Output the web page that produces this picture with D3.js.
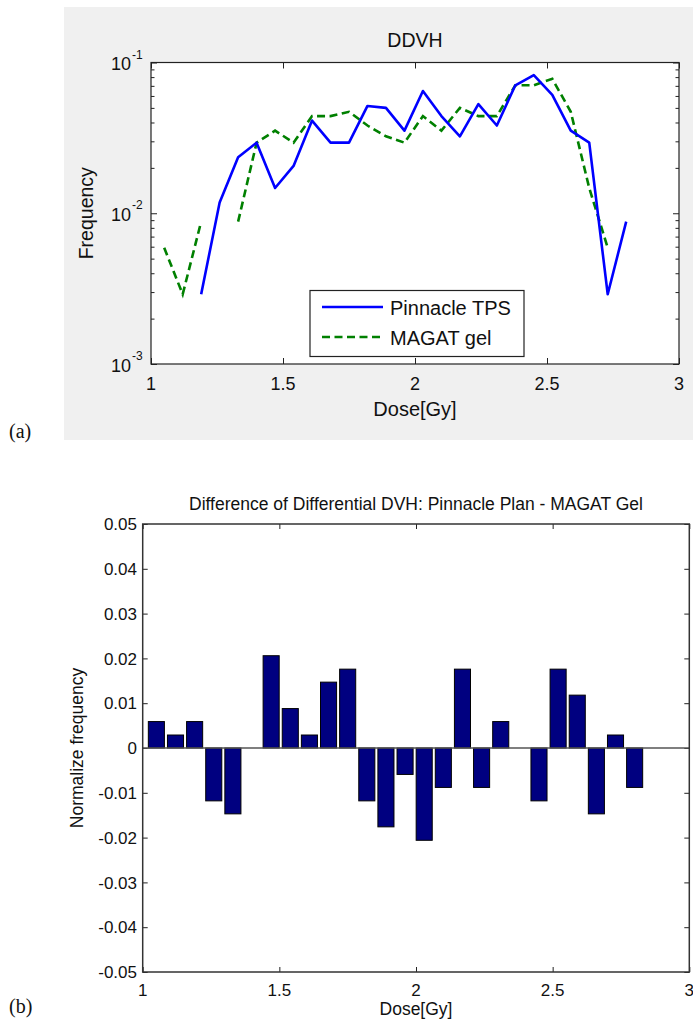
<!DOCTYPE html>
<html>
<head>
<meta charset="utf-8">
<script src="https://d3js.org/d3.v7.min.js"></script>
<style>
body { margin: 0; background: #ffffff; }
svg { display: block; }
</style>
</head>
<body>
<div class="chart"></div>
<script>
// dose bin centres [Gy]
var doseBins = [1.05, 1.12, 1.19, 1.26, 1.33, 1.40, 1.47, 1.54, 1.61, 1.68, 1.75, 1.82, 1.89,
                1.96, 2.03, 2.10, 2.17, 2.24, 2.31, 2.38, 2.45, 2.52, 2.59, 2.66, 2.73, 2.80];

// differential DVH, null = empty bin (not drawn on log axis)
var pinnacleFreq = [null, null, 0.0029, 0.0118, 0.0235, 0.0294, 0.0147, 0.0206, 0.0412, 0.0294, 0.0294, 0.0515, 0.0500,
                    0.0353, 0.0647, 0.0441, 0.0324, 0.0529, 0.0382, 0.0706, 0.0824, 0.0610, 0.0353, 0.0294, 0.0029, 0.0088];
var magatFreq = [0.0059, 0.0029, 0.0088, null, 0.0088, 0.0294, 0.0353, 0.0294, 0.0441, 0.0441, 0.0471, 0.0382, 0.0324,
                 0.0294, 0.0441, 0.0353, 0.0500, 0.0441, 0.0441, 0.0706, 0.0706, 0.0779, 0.0471, 0.0147, 0.0059, null];

// difference bars (panel b)
var diffFreq = [0.0059, 0.0029, 0.0059, -0.0118, -0.0147, 0, 0.0206, 0.0088, 0.0029, 0.0147, 0.0176, -0.0118, -0.0176,
                -0.0059, -0.0206, -0.0088, 0.0176, -0.0088, 0.0059, 0, -0.0118, 0.0176, 0.0118, -0.0147, 0.0029, -0.0088];

var doseTicks = [1, 1.5, 2, 2.5, 3];
var logTicks = [1e-3, 1e-2, 1e-1];
var diffTicks = [0.05, 0.04, 0.03, 0.02, 0.01, 0, -0.01, -0.02, -0.03, -0.04, -0.05];

var seriesNames = ["Pinnacle TPS", "MAGAT gel"];

var width = 693;
var height = 1026;
var axisColor = "#222222";

var svg = d3.select(".chart")
    .append("svg")
    .attr("width", width)
    .attr("height", height);

//////// panel (a) - DDVH on log axis
var topBox = {left: 151, right: 679, top: 62.5, bottom: 364};
var fontTop = "Liberation Sans, Arial, sans-serif";

// grey figure background
svg.append("rect")
    .attr("x", 64)
    .attr("y", 7)
    .attr("width", width - 64)
    .attr("height", 433)
    .attr("fill", "#f0f0f0");

svg.append("rect")
    .attr("x", topBox.left)
    .attr("y", topBox.top)
    .attr("width", topBox.right - topBox.left)
    .attr("height", topBox.bottom - topBox.top)
    .attr("fill", "#ffffff");

var xTop = d3.scaleLinear().domain([1, 3]).range([topBox.left, topBox.right]);
var yTop = d3.scaleLog().domain([1e-3, 1e-1]).range([topBox.bottom, topBox.top]);

// minor log ticks
var minorTicks = yTop.ticks().filter(function(t) {
    return logTicks.indexOf(t) < 0;
});

var gTop = svg.append("g");

// x ticks inside, bottom and top
gTop.append("g")
    .attr("transform", "translate(0," + topBox.bottom + ")")
    .call(d3.axisBottom(xTop).tickValues(doseTicks).tickSizeInner(-6).tickSizeOuter(0).tickFormat(""))
    .call(styleAxis);
gTop.append("g")
    .attr("transform", "translate(0," + topBox.top + ")")
    .call(d3.axisTop(xTop).tickValues(doseTicks).tickSizeInner(-6).tickSizeOuter(0).tickFormat(""))
    .call(styleAxis);

// y ticks inside, left and right
[[d3.axisLeft, topBox.left], [d3.axisRight, topBox.right]].forEach(function(a) {
    gTop.append("g")
        .attr("transform", "translate(" + a[1] + ",0)")
        .call(a[0](yTop).tickValues(logTicks).tickSizeInner(-6).tickSizeOuter(0).tickFormat(""))
        .call(styleAxis);
    gTop.append("g")
        .attr("transform", "translate(" + a[1] + ",0)")
        .call(a[0](yTop).tickValues(minorTicks).tickSizeInner(-3.5).tickSizeOuter(0).tickFormat(""))
        .call(styleAxis);
});

function styleAxis(g) {
    g.select(".domain").remove();
    g.selectAll(".tick line").attr("stroke", axisColor).attr("stroke-width", 1);
}

// series lines
var lineGen = d3.line()
    .defined(function(d) { return d.v !== null; })
    .x(function(d) { return xTop(d.dose); })
    .y(function(d) { return yTop(d.v); });

var pinnacleData = doseBins.map(function(d, i) { return {dose: d, v: pinnacleFreq[i]}; });
var magatData = doseBins.map(function(d, i) { return {dose: d, v: magatFreq[i]}; });

gTop.append("path")
    .datum(magatData)
    .attr("d", lineGen)
    .attr("fill", "none")
    .attr("stroke", "#008000")
    .attr("stroke-width", 2.6)
    .attr("stroke-dasharray", "8,4.5");

gTop.append("path")
    .datum(pinnacleData)
    .attr("d", lineGen)
    .attr("fill", "none")
    .attr("stroke", "#0000ff")
    .attr("stroke-width", 2.6)
    .attr("stroke-linejoin", "round");

// box
gTop.append("rect")
    .attr("x", topBox.left)
    .attr("y", topBox.top)
    .attr("width", topBox.right - topBox.left)
    .attr("height", topBox.bottom - topBox.top)
    .attr("fill", "none")
    .attr("stroke", axisColor)
    .attr("stroke-width", 1.2);

// x tick labels
gTop.selectAll(".xlab")
    .data(doseTicks)
    .enter()
    .append("text")
    .attr("x", function(d) { return xTop(d); })
    .attr("y", 390)
    .attr("text-anchor", "middle")
    .attr("font-family", fontTop)
    .attr("font-size", "18px")
    .attr("fill", "#111")
    .text(function(d) { return d; });

// y tick labels 10^n
var yLab = gTop.selectAll(".ylab")
    .data(logTicks)
    .enter()
    .append("text")
    .attr("x", 131)
    .attr("y", function(d) { return yTop(d) + 7.5; })
    .attr("text-anchor", "end")
    .attr("font-family", fontTop)
    .attr("font-size", "18px")
    .attr("fill", "#111")
    .text("10");
gTop.selectAll(".ysup")
    .data(logTicks)
    .enter()
    .append("text")
    .attr("x", 132)
    .attr("y", function(d) { return yTop(d) - 4; })
    .attr("font-family", fontTop)
    .attr("font-size", "12px")
    .attr("fill", "#111")
    .text(function(d) { return "-" + Math.round(-Math.log10(d)); });

// title and axis labels
gTop.append("text")
    .attr("x", (topBox.left + topBox.right) / 2)
    .attr("y", 47)
    .attr("text-anchor", "middle")
    .attr("font-family", fontTop)
    .attr("font-size", "19.5px")
    .attr("fill", "#111")
    .text("DDVH");

gTop.append("text")
    .attr("x", (topBox.left + topBox.right) / 2)
    .attr("y", 416)
    .attr("text-anchor", "middle")
    .attr("font-family", fontTop)
    .attr("font-size", "20px")
    .attr("fill", "#111")
    .text("Dose[Gy]");

gTop.append("text")
    .attr("transform", "translate(93," + ((topBox.top + topBox.bottom) / 2) + ") rotate(-90)")
    .attr("text-anchor", "middle")
    .attr("font-family", fontTop)
    .attr("font-size", "19.5px")
    .attr("fill", "#111")
    .text("Frequency");

// legend
var legend = gTop.append("g").attr("transform", "translate(310,290.5)");
legend.append("rect")
    .attr("width", 214)
    .attr("height", 66)
    .attr("fill", "#ffffff")
    .attr("stroke", axisColor)
    .attr("stroke-width", 1.2);

var legendStyles = [
    {color: "#0000ff", dash: null},
    {color: "#008000", dash: "8,4.5"}
];
seriesNames.forEach(function(name, i) {
    var ly = 16.5 + i * 30;
    legend.append("line")
        .attr("x1", 12)
        .attr("x2", 73)
        .attr("y1", ly)
        .attr("y2", ly)
        .attr("stroke", legendStyles[i].color)
        .attr("stroke-width", 2.6)
        .attr("stroke-dasharray", legendStyles[i].dash);
    legend.append("text")
        .attr("x", 80)
        .attr("y", ly + 8)
        .attr("font-family", fontTop)
        .attr("font-size", "20px")
        .attr("fill", "#111")
        .text(name);
});

svg.append("text")
    .attr("x", 9)
    .attr("y", 438)
    .attr("font-family", "Liberation Serif, Times New Roman, serif")
    .attr("font-size", "20px")
    .attr("fill", "#111")
    .text("(a)");

//////// panel (b) - difference bars
var botBox = {left: 142.7, right: 689.3, top: 524, bottom: 972};
var fontBot = "Liberation Sans, Arial, sans-serif";

var xBot = d3.scaleLinear().domain([1, 3]).range([botBox.left, botBox.right]);
var yBot = d3.scaleLinear().domain([-0.05, 0.05]).range([botBox.bottom, botBox.top]);

var gBot = svg.append("g");

gBot.append("g")
    .attr("transform", "translate(0," + botBox.bottom + ")")
    .call(d3.axisBottom(xBot).tickValues(doseTicks).tickSizeInner(-5).tickSizeOuter(0).tickFormat(""))
    .call(styleAxis);
gBot.append("g")
    .attr("transform", "translate(0," + botBox.top + ")")
    .call(d3.axisTop(xBot).tickValues(doseTicks).tickSizeInner(-5).tickSizeOuter(0).tickFormat(""))
    .call(styleAxis);
gBot.append("g")
    .attr("transform", "translate(" + botBox.left + ",0)")
    .call(d3.axisLeft(yBot).tickValues(diffTicks).tickSizeInner(-5).tickSizeOuter(0).tickFormat(""))
    .call(styleAxis);
gBot.append("g")
    .attr("transform", "translate(" + botBox.right + ",0)")
    .call(d3.axisRight(yBot).tickValues(diffTicks).tickSizeInner(-5).tickSizeOuter(0).tickFormat(""))
    .call(styleAxis);

// bars
var barWidth = (xBot(doseBins[1]) - xBot(doseBins[0])) * 0.84;
gBot.selectAll(".bar")
    .data(doseBins.map(function(d, i) { return {dose: d, v: diffFreq[i]}; }).filter(function(d) { return d.v !== 0; }))
    .enter()
    .append("rect")
    .attr("x", function(d) { return xBot(d.dose) - barWidth / 2; })
    .attr("y", function(d) { return yBot(Math.max(0, d.v)); })
    .attr("width", barWidth)
    .attr("height", function(d) { return Math.abs(yBot(d.v) - yBot(0)); })
    .attr("fill", "#000080")
    .attr("stroke", "#000000")
    .attr("stroke-width", 1);

// baseline
gBot.append("line")
    .attr("x1", botBox.left)
    .attr("x2", botBox.right)
    .attr("y1", yBot(0))
    .attr("y2", yBot(0))
    .attr("stroke", "#555555")
    .attr("stroke-width", 1.5);

gBot.append("rect")
    .attr("x", botBox.left)
    .attr("y", botBox.top)
    .attr("width", botBox.right - botBox.left)
    .attr("height", botBox.bottom - botBox.top)
    .attr("fill", "none")
    .attr("stroke", "#333333")
    .attr("stroke-width", 1.5);

// tick labels
gBot.selectAll(".ylab")
    .data(diffTicks)
    .enter()
    .append("text")
    .attr("x", 137)
    .attr("y", function(d) { return yBot(d); })
    .attr("dy", "0.36em")
    .attr("text-anchor", "end")
    .attr("font-family", fontBot)
    .attr("font-size", "17px")
    .attr("fill", "#111")
    .text(function(d) { return d === 0 ? "0" : d.toFixed(2); });

gBot.selectAll(".xlab")
    .data(doseTicks)
    .enter()
    .append("text")
    .attr("x", function(d) { return xBot(d); })
    .attr("y", 996)
    .attr("text-anchor", "middle")
    .attr("font-family", fontBot)
    .attr("font-size", "17px")
    .attr("fill", "#111")
    .text(function(d) { return d; });

gBot.append("text")
    .attr("x", (botBox.left + botBox.right) / 2)
    .attr("y", 510)
    .attr("text-anchor", "middle")
    .attr("font-family", fontBot)
    .attr("font-size", "17.5px")
    .attr("fill", "#111")
    .text("Difference of Differential DVH: Pinnacle Plan - MAGAT Gel");

gBot.append("text")
    .attr("x", (botBox.left + botBox.right) / 2)
    .attr("y", 1015)
    .attr("text-anchor", "middle")
    .attr("font-family", fontBot)
    .attr("font-size", "17.5px")
    .attr("fill", "#111")
    .text("Dose[Gy]");

gBot.append("text")
    .attr("transform", "translate(83," + yBot(0) + ") rotate(-90)")
    .attr("text-anchor", "middle")
    .attr("font-family", fontBot)
    .attr("font-size", "17.5px")
    .attr("fill", "#111")
    .text("Normalize frequency");

svg.append("text")
    .attr("x", 9)
    .attr("y", 1013)
    .attr("font-family", "Liberation Serif, Times New Roman, serif")
    .attr("font-size", "20px")
    .attr("fill", "#111")
    .text("(b)");
</script>
</body>
</html>
